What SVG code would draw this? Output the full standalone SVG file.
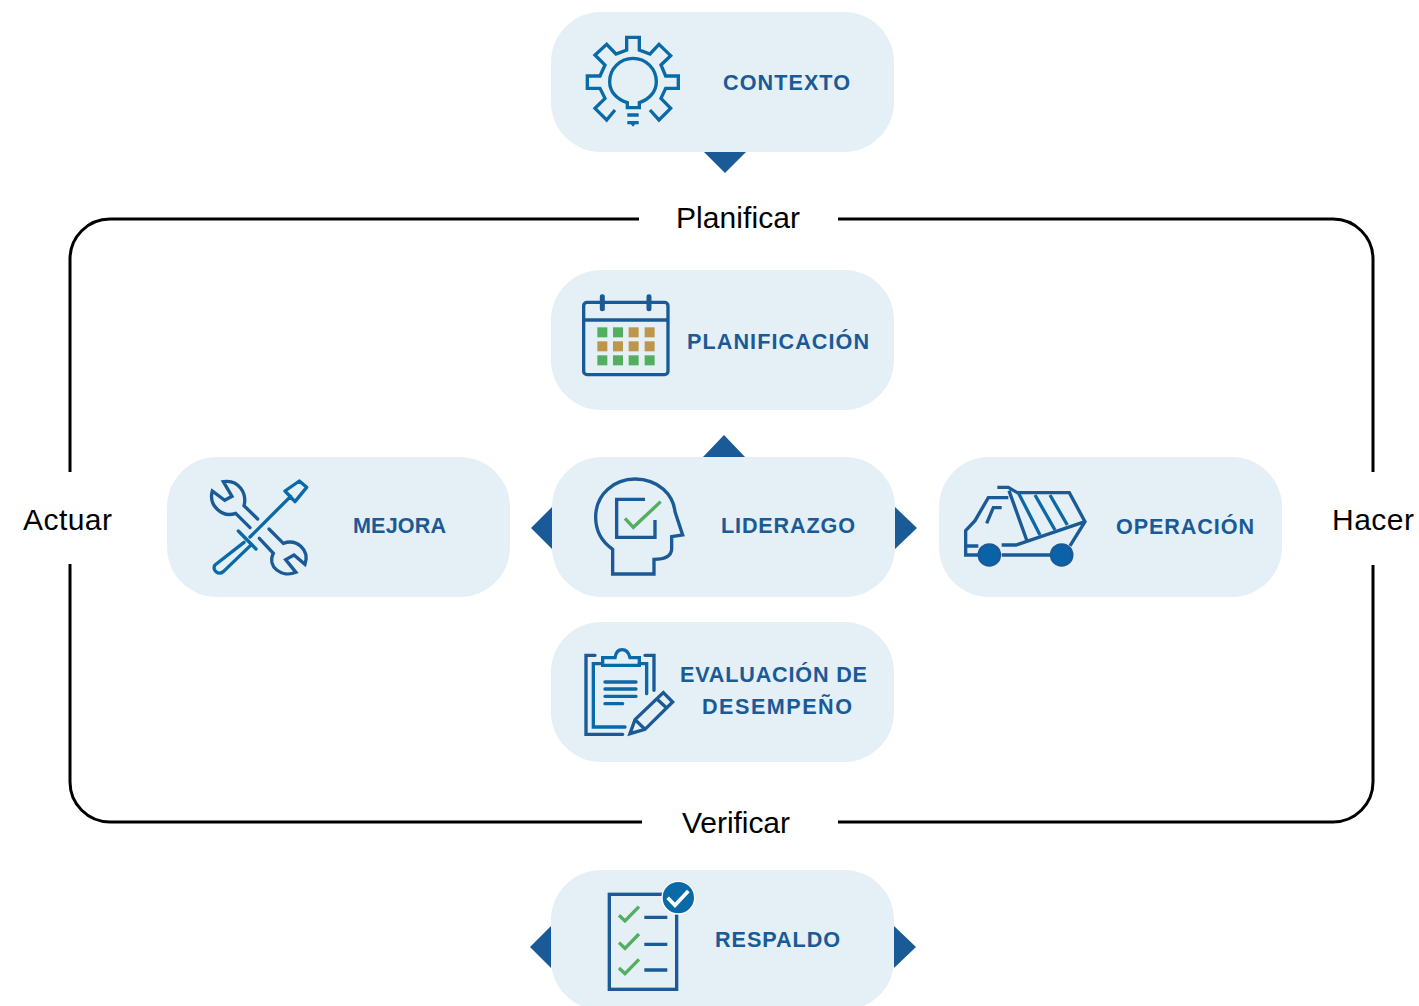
<svg xmlns="http://www.w3.org/2000/svg" width="1419" height="1006" viewBox="0 0 1419 1006">
<style>
.box{fill:#e4eff6}
.tri{fill:#1a5a96}
.lbl{font-family:"Liberation Sans",Arial,sans-serif;font-weight:700;font-size:21.6px;fill:#1a5a96}
.pdca{font-family:"Liberation Sans",Arial,sans-serif;font-size:30px;fill:#000}
.frame{fill:none;stroke:#000;stroke-width:3}
.ic{fill:none;stroke:#1a5a96;stroke-width:10;stroke-linejoin:miter}
.ic2{fill:none;stroke:#0a6aa8;stroke-width:10}
.ok{fill:none;stroke:#54ae60;stroke-width:10}
.g{fill:#54ae60}
.t{fill:#bc974b}
</style>
<rect width="1419" height="1006" fill="#fff"/>
<g id="connectors">
<path class="frame" d="M639 219H110A40 40 0 0 0 70 259V472M70 564V782A40 40 0 0 0 110 822H642M838 822H1333A40 40 0 0 0 1373 782V565M1373 472V259A40 40 0 0 0 1333 219H838"/>
<polygon class="tri" points="704,152 746,152 725,173"/>
<polygon class="tri" points="703,457 745,457 724,435"/>
<polygon class="tri" points="552,507 552,549 531,528"/>
<polygon class="tri" points="895,507 895,549 917,528"/>
<polygon class="tri" points="551,926 551,968 530,947"/>
<polygon class="tri" points="894,926 894,968 916,947"/>
</g>
<g id="label-planificar"><text class="pdca" x="676" y="228" textLength="124">Planificar</text></g>
<g id="label-verificar"><text class="pdca" x="682" y="833" textLength="108">Verificar</text></g>
<g id="label-actuar"><text class="pdca" x="23" y="530" textLength="89">Actuar</text></g>
<g id="label-hacer"><text class="pdca" x="1332" y="530" textLength="82">Hacer</text></g>

<g id="contexto">
<rect class="box" x="551" y="12" width="343" height="140" rx="50"/>
<g transform="translate(550 10) scale(.3333)">
<path class="ic2" d="M195 300L170 330 135 295 165 265 150 235H112V198H150L165 165 135 135 170 103 198 132 230 120V82H268V120L300 132 327 103 362 137 333 165 347 198H385V235H347L333 265 362 295 327 330 300 300"/>
<path class="ic2" d="M232 293V278C200 268 179 245 179 215A70 70 0 0 1 319 215C319 245 298 268 268 278V293Z"/>
<path class="ic2" d="M232 315H266M232 338H266"/>
<path d="M242 342H256L249 350Z" fill="#0a6aa8"/>
</g>
<text class="lbl" x="723" y="89.6" textLength="127">CONTEXTO</text>
</g>

<g id="planificacion">
<rect class="box" x="551" y="270" width="343" height="140" rx="50"/>
<g transform="translate(550 270) scale(.3333)">
<rect class="ic" x="101" y="97" width="253" height="217" rx="10"/>
<path class="ic" d="M101 150H354"/>
<path d="M157 80V116M297 80V116" fill="none" stroke="#1a5a96" stroke-width="15" stroke-linecap="round"/>
<rect class="g" x="142" y="172" width="30" height="30"/><rect class="g" x="189" y="172" width="30" height="30"/><rect class="t" x="236" y="172" width="30" height="30"/><rect class="t" x="284" y="172" width="30" height="30"/>
<rect class="t" x="142" y="214" width="30" height="30"/><rect class="t" x="189" y="214" width="30" height="30"/><rect class="t" x="236" y="214" width="30" height="30"/><rect class="t" x="284" y="214" width="30" height="30"/>
<rect class="g" x="142" y="256" width="30" height="30"/><rect class="g" x="189" y="256" width="30" height="30"/><rect class="g" x="236" y="256" width="30" height="30"/><rect class="g" x="284" y="256" width="30" height="30"/>
</g>
<text class="lbl" x="687" y="348.6" textLength="182">PLANIFICACIÓN</text>
</g>

<g id="mejora">
<rect class="box" x="167" y="457" width="343" height="140" rx="50"/>
<g transform="translate(170 455) scale(.3333)">
<path class="ic" stroke-linecap="round" d="M263 192L222 152C232 115 205 72 160 80L186 124 164 136 127 108C115 150 155 190 197 175L240 218"/>
<path class="ic" stroke-linecap="round" d="M297 222L340 265C380 250 420 285 405 328L372 300 347 314 378 352C335 370 290 335 310 295L268 250"/>
<path class="ic2" stroke-linecap="round" stroke-linejoin="round" d="M345 108L388 78 410 97 375 140ZM362 124L240 246M205 228L258 282M222 262L135 330C125 345 145 362 160 350L245 268"/>
</g>
<text class="lbl" x="353" y="532.6" textLength="93">MEJORA</text>
</g>

<g id="liderazgo">
<rect class="box" x="552" y="457" width="343" height="140" rx="50"/>
<g transform="translate(530 430) scale(.3333)">
<path class="ic" d="M248 432V358C215 335 197 305 197 262 197 190 255 147 315 147 385 147 430 195 435 245L458 315 425 320V358C423 380 400 388 372 388V432Z"/>
<path class="ic" d="M345 208H260V322H375V270"/>
<path class="ok" d="M285 265L310 292 392 215"/>
</g>
<text class="lbl" x="721" y="532.6" textLength="134">LIDERAZGO</text>
</g>

<g id="operacion">
<rect class="box" x="939" y="457" width="343" height="140" rx="50"/>
<g transform="translate(940 460) scale(.3333)">
<path class="ic" d="M205 113H145L105 182 77 212V285H120M185 285H330M77 258H115M185 255H228L435 185M172 82H205L232 98H388L435 185 390 258M207 92L260 240"/>
<path class="ic2" d="M235 98L300 225M285 105L345 210M330 105L382 195"/>
<path class="ic" d="M185 143H160L140 190"/>
<circle cx="148" cy="285" r="32" fill="#0a62a8" stroke="#1a5a96" stroke-width="7"/>
<circle cx="365" cy="285" r="32" fill="#0a62a8" stroke="#1a5a96" stroke-width="7"/>
</g>
<text class="lbl" x="1116" y="533.6" textLength="138">OPERACIÓN</text>
</g>

<g id="evaluacion">
<rect class="box" x="551" y="622" width="343" height="140" rx="50"/>
<g transform="translate(550 622) scale(.3333)">
<path class="ic" stroke-linecap="round" d="M135 100H108V337H218M285 100H312V205"/>
<path class="ic2" stroke-linecap="round" d="M155 125H130V315H225M268 125H290V215"/>
<path class="ic2" d="M158 130V107H195C200 75 232 75 240 107H268V130Z"/>
<path class="ic2" stroke-linecap="round" d="M165 180H258M165 201H258M165 223H258M165 245H218"/>
<path class="ic" stroke-linejoin="round" d="M240 335L255 293 340 212 368 240 285 322ZM255 293L285 322M320 230L350 258"/>
</g>
<text class="lbl" x="680" y="681.6" textLength="187">EVALUACIÓN DE</text>
<text class="lbl" x="702" y="714" textLength="150">DESEMPEÑO</text>
</g>

<g id="respaldo">
<rect class="box" x="551" y="870" width="343" height="140" rx="50"/>
<g transform="translate(525 866) scale(.3333)">
<rect class="ic" x="253" y="85" width="202" height="285"/>
<circle cx="460" cy="95" r="49" fill="#0a6aa8" stroke="#fff" stroke-width="4"/>
<path d="M428 95L450 118 490 75" fill="none" stroke="#fff" stroke-width="11"/>
<path class="ok" stroke-width="11" d="M282 148L300 165 342 122M282 230L300 247 342 204M282 306L300 323 342 280"/>
<path class="ic" d="M358 154H427M358 235H427M358 312H427"/>
</g>
<text class="lbl" x="715" y="946.6" textLength="125">RESPALDO</text>
</g>
</svg>
